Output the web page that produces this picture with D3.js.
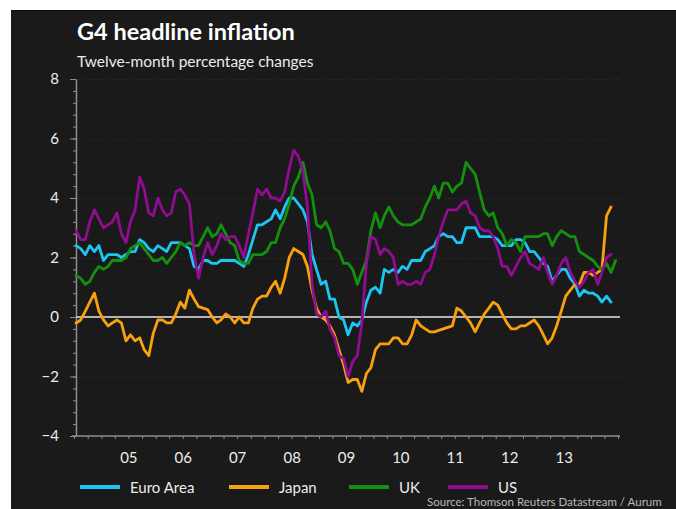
<!DOCTYPE html>
<html>
<head>
<meta charset="utf-8">
<script src="https://cdn.jsdelivr.net/npm/d3@7"></script>
<style>
  html, body { margin: 0; padding: 0; background: #ffffff; }
  svg { display: block; }
  text { font-family: Lato, "Open Sans", "DejaVu Sans", sans-serif; }
</style>
</head>
<body>
<svg id="chart" width="676" height="509"></svg>
<script>
// Monthly twelve-month CPI inflation, % (first observation: July 2004)
const firstMonth = [2004, 6]; // year, zero-based month

const euroArea = [
  2.4, 2.3, 2.1, 2.4, 2.2, 2.4,
  1.9, 2.1, 2.1, 2.1, 2.0, 2.1, 2.2, 2.2, 2.6, 2.5, 2.3, 2.2,
  2.4, 2.3, 2.2, 2.5, 2.5, 2.5, 2.4, 2.3, 1.7, 1.6, 1.9, 1.9,
  1.8, 1.8, 1.9, 1.9, 1.9, 1.9, 1.8, 1.7, 2.1, 2.6, 3.1, 3.1,
  3.2, 3.3, 3.6, 3.3, 3.7, 4.0, 4.0, 3.8, 3.6, 3.2, 2.1, 1.6,
  1.1, 1.2, 0.6, 0.6, 0.0, -0.1, -0.6, -0.2, -0.3, -0.1, 0.5, 0.9,
  1.0, 0.8, 1.6, 1.5, 1.6, 1.5, 1.7, 1.6, 1.9, 1.9, 1.9, 2.2,
  2.3, 2.4, 2.7, 2.8, 2.7, 2.7, 2.5, 2.5, 3.0, 3.0, 3.0, 2.7,
  2.7, 2.7, 2.7, 2.6, 2.4, 2.4, 2.4, 2.6, 2.6, 2.5, 2.2, 2.2,
  2.0, 1.8, 1.7, 1.2, 1.4, 1.6, 1.6, 1.3, 1.1, 0.7, 0.9, 0.8,
  0.8, 0.7, 0.5, 0.7, 0.5
];

const japan = [
  -0.2, -0.1, 0.2, 0.5, 0.8, 0.2,
  -0.1, -0.3, -0.2, -0.1, -0.2, -0.8, -0.6, -0.8, -0.7, -1.1, -1.3, -0.55,
  -0.1, -0.1, -0.2, -0.2, 0.1, 0.5, 0.3, 0.9, 0.6, 0.35, 0.3, 0.25,
  0.0, -0.2, -0.1, 0.1, 0.0, -0.2, 0.0, -0.2, -0.2, 0.3, 0.6, 0.7,
  0.7, 1.0, 1.2, 0.8, 1.3, 2.0, 2.3, 2.2, 2.1, 1.7, 0.9, 0.3,
  0.0, -0.1, -0.3, -0.6, -1.1, -1.6, -2.2, -2.1, -2.1, -2.5, -1.9, -1.7,
  -1.1, -0.9, -0.9, -0.9, -0.7, -0.7, -0.9, -0.9, -0.6, -0.1, -0.3, -0.4,
  -0.5, -0.5, -0.45, -0.4, -0.35, -0.3, 0.3, 0.2, 0.0, -0.2, -0.5, -0.2,
  0.1, 0.3, 0.5, 0.4, 0.1, -0.2, -0.4, -0.4, -0.3, -0.3, -0.2, -0.1,
  -0.3, -0.6, -0.9, -0.7, -0.3, 0.2, 0.7, 0.9, 1.1, 1.1, 1.5, 1.5,
  1.4, 1.5, 1.6, 3.4, 3.7
];

const uk = [
  1.4, 1.3, 1.1, 1.2, 1.5, 1.7,
  1.6, 1.7, 1.9, 1.9, 1.9, 2.0, 2.3, 2.4, 2.5, 2.3, 2.1, 1.9,
  1.9, 2.0, 1.8, 2.0, 2.2, 2.5, 2.4, 2.5, 2.4, 2.4, 2.7, 3.0,
  2.7, 2.8, 3.1, 2.8, 2.5, 2.4, 1.9, 1.8, 1.8, 2.1, 2.1, 2.1,
  2.2, 2.5, 2.5, 3.0, 3.3, 3.8, 4.4, 4.7, 5.2, 4.5, 4.1, 3.1,
  3.0, 3.2, 2.9, 2.3, 2.2, 1.8, 1.8, 1.6, 1.1, 1.5, 1.9, 2.9,
  3.5, 3.0, 3.4, 3.7, 3.4, 3.2, 3.1, 3.1, 3.1, 3.2, 3.3, 3.7,
  4.0, 4.4, 4.0, 4.5, 4.5, 4.2, 4.4, 4.5, 5.2, 5.0, 4.8, 4.2,
  3.6, 3.4, 3.5, 3.0, 2.8, 2.4, 2.6, 2.5, 2.2, 2.7, 2.7, 2.7,
  2.7, 2.8, 2.8, 2.4, 2.7, 2.9, 2.8, 2.7, 2.7, 2.2, 2.1, 2.0,
  1.9, 1.7, 1.6, 1.8, 1.5, 1.9
];

const us = [
  2.9, 2.6, 2.6, 3.2, 3.6, 3.3,
  3.0, 3.1, 3.2, 3.5, 2.8, 2.5, 3.2, 3.6, 4.7, 4.3, 3.5, 3.4,
  4.0, 3.6, 3.4, 3.5, 4.2, 4.3, 4.1, 3.8, 2.1, 1.3, 2.0, 2.5,
  2.1, 2.4, 2.8, 2.6, 2.7, 2.7, 2.4, 2.0, 2.8, 3.5, 4.3, 4.1,
  4.3, 4.0, 4.0, 3.9, 4.2, 5.0, 5.6, 5.4, 4.9, 3.7, 1.1, 0.1,
  0.0, 0.2, -0.4, -0.7, -1.3, -1.4, -2.0, -1.5, -1.3, -0.2, 1.8, 2.7,
  2.6, 2.1, 2.3, 2.2, 2.0, 1.1, 1.2, 1.1, 1.1, 1.2, 1.1, 1.5,
  1.6, 2.1, 2.7, 3.2, 3.6, 3.6, 3.6, 3.8, 3.9, 3.5, 3.4, 3.0,
  2.9, 2.9, 2.7, 2.3, 1.7, 1.7, 1.4, 1.7, 2.0, 2.2, 1.8, 1.7,
  1.6, 2.0, 1.5, 1.1, 1.4, 1.8, 2.0, 1.5, 1.2, 1.0, 1.2, 1.5,
  1.6, 1.1, 1.5, 2.0, 2.1
];

const seriesNames = ["Euro Area", "Japan", "UK", "US"];
const seriesValues = [euroArea, japan, uk, us];
const yTickValues = [-4, -2, 0, 2, 4, 6, 8];
const yearLabels = ["05", "06", "07", "08", "09", "10", "11", "12", "13"];
const titleText = "G4 headline inflation";
const subtitleText = "Twelve-month percentage changes";
const sourceText = "Source: Thomson Reuters Datastream / Aurum";

// ---- styling ----
const colors = { "Euro Area": "#1cc6f2", "Japan": "#f8a00e", "UK": "#14900f", "US": "#900c90" };
const panelFill = "#1a1a1a";
const axisColor = "#8e8e8e";
const textColor = "#ececec";

const svg = d3.select("#chart");

// dark panel
svg.append("rect").attr("x", 11).attr("y", 10).attr("width", 665).attr("height", 499).attr("fill", panelFill);
svg.append("line").attr("x1", 11).attr("x2", 676).attr("y1", 10.5).attr("y2", 10.5).attr("stroke", "#0b0b0b");

// title block
svg.append("text").attr("x", 77).attr("y", 40)
  .attr("fill", "#ffffff").attr("font-size", 23.5).attr("font-weight", 700).text(titleText);
svg.append("text").attr("x", 77).attr("y", 67)
  .attr("fill", textColor).attr("font-size", 15.5).text(subtitleText);

// scales
const monthDate = i => d3.timeDay.offset(d3.timeMonth.offset(new Date(firstMonth[0], firstMonth[1], 1), i), 14);
const x = d3.scaleTime()
  .domain([new Date(2004, 6, 1), new Date(2014, 6, 1)])
  .range([74, 618]);
const y = d3.scaleLinear().domain([-4, 8]).range([436, 79]);
const axisX = 76;

// faint grid lines
svg.append("g").selectAll("line")
  .data(yTickValues.filter(v => v !== 0))
  .join("line")
  .attr("x1", axisX).attr("x2", 620)
  .attr("y1", d => Math.round(y(d)) + 0.5).attr("y2", d => Math.round(y(d)) + 0.5)
  .attr("stroke", "#303030").attr("stroke-dasharray", "1,2");

// y axis: minor ticks then major ticks with labels
const yMinor = svg.append("g").attr("transform", `translate(${axisX},0)`)
  .call(d3.axisLeft(y).tickValues(d3.range(-4, 8.001, 0.4)).tickSize(3).tickFormat(""));
yMinor.select(".domain").remove();
yMinor.selectAll("line").attr("stroke", axisColor);

const yAxis = svg.append("g").attr("transform", `translate(${axisX},0)`)
  .call(d3.axisLeft(y).tickValues(yTickValues).tickSize(6).tickSizeOuter(0).tickPadding(11).tickFormat(d3.format("d")));
yAxis.select(".domain").attr("stroke", axisColor).attr("stroke-width", 1.5);
yAxis.selectAll("line").attr("stroke", axisColor);
yAxis.selectAll("text").attr("fill", textColor).attr("font-size", 15)
  .attr("font-family", "Lato, 'Open Sans', sans-serif");

// x axis: quarterly tick marks
const xTicks = svg.append("g").attr("transform", `translate(0,${y(-4)})`)
  .call(d3.axisBottom(x).ticks(d3.timeMonth.every(3)).tickSize(3).tickSizeOuter(0).tickFormat(""));
xTicks.select(".domain").attr("d", `M${axisX - 4},0H620`).attr("stroke", axisColor).attr("stroke-width", 1.5);
xTicks.selectAll("line").attr("stroke", axisColor);

// x axis: year labels centred on each calendar year
const yearMid = yearLabels.map((_, k) => new Date(2005 + k, 6, 1));
const xLabels = svg.append("g").attr("transform", `translate(0,${y(-4)})`)
  .call(d3.axisBottom(x).tickValues(yearMid).tickSize(0).tickPadding(16)
    .tickFormat((d, i) => yearLabels[i]));
xLabels.select(".domain").remove();
xLabels.selectAll("text").attr("fill", textColor).attr("font-size", 15)
  .attr("font-family", "Lato, 'Open Sans', sans-serif");

// zero line
svg.append("line")
  .attr("x1", axisX).attr("x2", 620)
  .attr("y1", y(0)).attr("y2", y(0))
  .attr("stroke", "#b4b4b4").attr("stroke-width", 2);

// series lines
const line = d3.line().x((d, i) => x(monthDate(i))).y(d => y(d));
svg.append("g").selectAll("path")
  .data(seriesNames.map((n, k) => ({ name: n, values: seriesValues[k] })))
  .join("path")
  .attr("d", d => line(d.values))
  .attr("fill", "none")
  .attr("stroke", d => colors[d.name])
  .attr("stroke-width", 2.8)
  .attr("stroke-linejoin", "round")
  .attr("stroke-linecap", "round");

// legend
const legendX = [80, 229, 349, 448];
const legend = svg.append("g").selectAll("g")
  .data(seriesNames)
  .join("g")
  .attr("transform", (d, i) => `translate(${legendX[i]},487)`);
legend.append("line").attr("x1", 0).attr("x2", 40).attr("y1", 0).attr("y2", 0)
  .attr("stroke", d => colors[d]).attr("stroke-width", 4);
legend.append("text").attr("x", 50).attr("y", 5.5)
  .attr("fill", textColor).attr("font-size", 15).text(d => d);

// source note
svg.append("text").attr("x", 427).attr("y", 506)
  .attr("fill", "#b8b8b8").attr("font-size", 11.5).text(sourceText);
</script>
</body>
</html>
